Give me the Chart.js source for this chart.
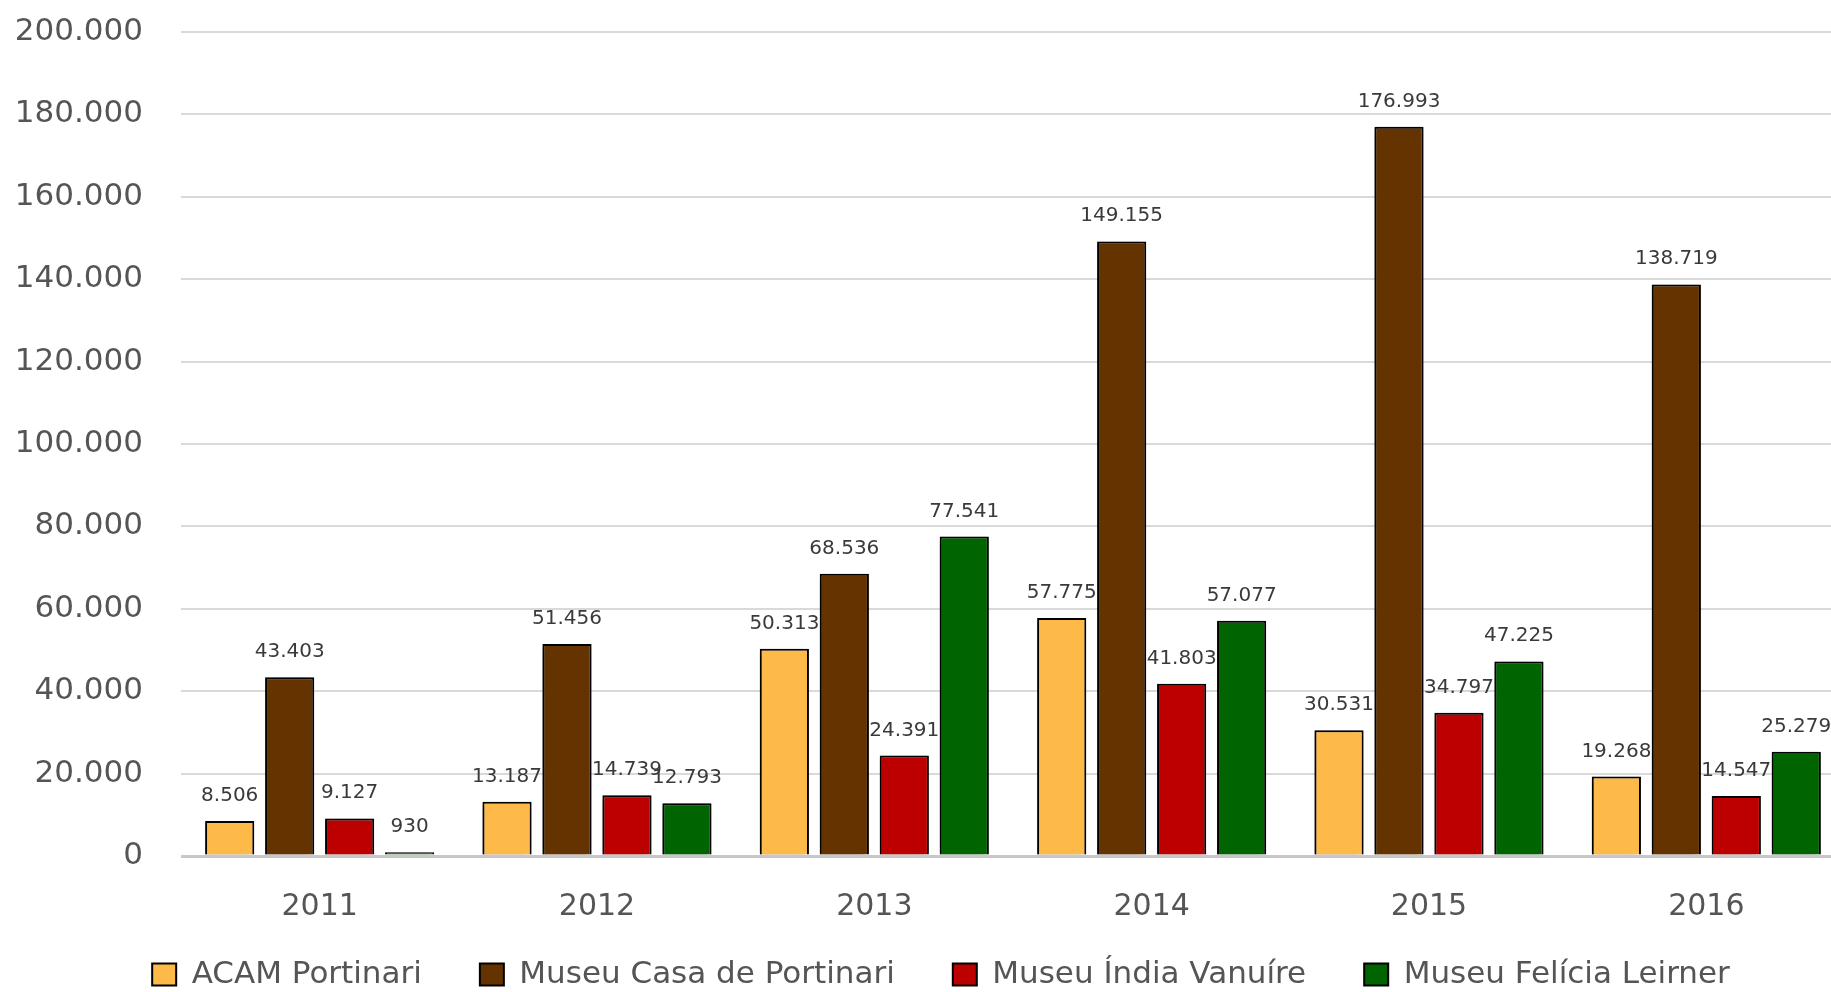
<!DOCTYPE html>
<html>
<head>
<meta charset="utf-8">
<script src="https://cdn.jsdelivr.net/npm/chart.js@4.4.0/dist/chart.umd.min.js"></script>
<style>
    html, body { margin: 0; padding: 0; background: #fff; overflow: hidden; }
    #wrap { position: relative; width: 1882px; height: 992px; }
</style>
</head>
<body>
<div id="wrap"><canvas id="myChart"></canvas></div>
<script>
const anos = ["2011", "2012", "2013", "2014", "2015", "2016"];
const acamPortinari = [8506, 13187, 50313, 57775, 30531, 19268];
const casaPortinari = [43403, 51456, 68536, 149155, 176993, 138719];
const indiaVanuire = [9127, 14739, 24391, 41803, 34797, 14547];
const feliciaLeirner = [930, 12793, 77541, 57077, 47225, 25279];
const yMax = 200000;
const yStep = 20000;

function formatNumero(v) {
    return String(Math.round(v)).replace(/\B(?=(\d{3})+(?!\d))/g, ".");
}

const fonte = "'DejaVu Sans', Verdana, sans-serif";

// sombra nas barras + rótulos de valor desenhados por dataset
const barShadowLabels = {
    id: "barShadowLabels",
    beforeDraw(chart) {
        // rótulos dos eixos podem passar da caixa do eixo, sem recorte
        chart.scales.x._computeLabelArea = () => null;
        chart.scales.y._computeLabelArea = () => null;
    },
    beforeDatasetDraw(chart) {
        const ctx = chart.ctx;
        ctx.save();
        ctx.shadowColor = "rgba(0,0,0,0.45)";
        ctx.shadowBlur = 7;
        ctx.shadowOffsetX = -3;
        ctx.shadowOffsetY = 2;
    },
    afterDatasetDraw(chart, args) {
        const ctx = chart.ctx;
        ctx.restore();
        const meta = args.meta;
        const data = chart.data.datasets[args.index].data;
        ctx.save();
        ctx.font = "20px " + fonte;
        ctx.fillStyle = "#3a3a3a";
        ctx.textAlign = "center";
        ctx.textBaseline = "alphabetic";
        meta.data.forEach((bar, i) => {
            ctx.fillText(formatNumero(data[i]), bar.x, bar.y - 20);
        });
        ctx.restore();
    },
};

const ctx = document.getElementById("myChart");

new Chart(ctx, {
    type: "bar",
    data: {
        labels: anos,
        datasets: [
            {
                label: "ACAM Portinari",
                data: acamPortinari,
                backgroundColor: "#fdba48",
                borderColor: "#000",
                borderWidth: 2,
            },
            {
                label: "Museu Casa de Portinari",
                data: casaPortinari,
                backgroundColor: "#653300",
                borderColor: "#000",
                borderWidth: 2,
            },
            {
                label: "Museu Índia Vanuíre",
                data: indiaVanuire,
                backgroundColor: "#bc0000",
                borderColor: "#000",
                borderWidth: 2,
            },
            {
                label: "Museu Felícia Leirner",
                data: feliciaLeirner,
                backgroundColor: "#006400",
                borderColor: "#000",
                borderWidth: 2,
            },
        ],
    },
    options: {
        responsive: true,
        maintainAspectRatio: false,
        animation: false,
        categoryPercentage: 0.865,
        barPercentage: 0.82,
        layout: {
            padding: { top: 32, right: 37, left: 37, bottom: -8 },
        },
        plugins: {
            tooltip: { enabled: false },
            legend: {
                position: "bottom",
                labels: {
                    font: { family: fonte, size: 31 },
                    color: "#555",
                    boxWidth: 24,
                    boxHeight: 22,
                    padding: 58,
                },
            },
        },
        scales: {
            x: {
                grid: { display: false },
                border: { display: false },
                ticks: {
                    font: { family: fonte, size: 30 },
                    color: "#555",
                    padding: 25,
                    autoSkip: false,
                    maxRotation: 0,
                },
                afterFit: (axis) => {
                    axis.height = 45;
                },
            },
            y: {
                min: 0,
                max: yMax,
                border: { display: false },
                grid: {
                    color: (c) => (c.tick && c.tick.value === 0 ? "#c8c8c8" : "#d9d9d9"),
                    lineWidth: (c) => (c.tick && c.tick.value === 0 ? 3 : 2),
                    drawTicks: true,
                    tickLength: 38,
                    tickColor: "rgba(0,0,0,0)",
                },
                ticks: {
                    stepSize: yStep,
                    font: { family: fonte, size: 31 },
                    color: "#555",
                    padding: 0,
                    callback: (v) => formatNumero(v),
                },
                afterFit: (axis) => {
                    axis.width = 144;
                },
            },
        },
    },
    plugins: [barShadowLabels],
});
</script>
</body>
</html>
